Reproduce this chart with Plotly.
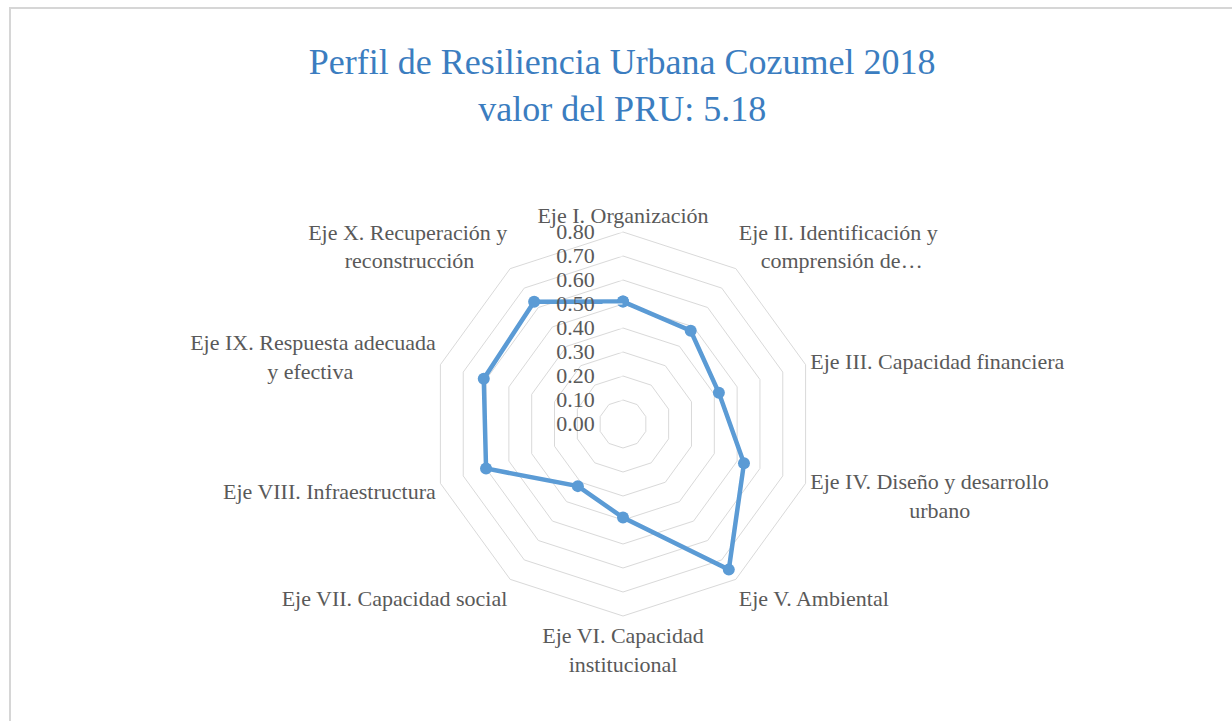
import plotly.graph_objects as go

categories = [
    "Eje I. Organización",
    "Eje II. Identificación y<br>comprensión de…",
    "Eje III. Capacidad financiera",
    "Eje IV. Diseño y desarrollo<br>urbano",
    "Eje V. Ambiental",
    "Eje VI. Capacidad<br>institucional",
    "Eje VII. Capacidad social",
    "Eje VIII. Infraestructura",
    "Eje IX. Respuesta adecuada<br>y efectiva",
    "Eje X. Recuperación y<br>reconstrucción",
]
values = [0.51, 0.48, 0.42, 0.53, 0.75, 0.39, 0.32, 0.60, 0.61, 0.63]
radial_ticks = [0.0, 0.1, 0.2, 0.3, 0.4, 0.5, 0.6, 0.7, 0.8]

title_text = "Perfil de Resiliencia Urbana Cozumel 2018<br>valor del PRU: 5.18"

NB = "\u00a0"
lead_pad = {1: 4, 3: 18}
trail_pad = {8: 15, 9: 6}


def pad_label(i, lab):
    if "<br>" not in lab:
        return lab
    a, b = lab.split("<br>")
    if i in lead_pad:
        b = NB * lead_pad[i] + b
    if i in trail_pad:
        b = b + NB * trail_pad[i]
    return a + "<br>" + b


tick_text = [pad_label(i, c) for i, c in enumerate(categories)]

W, H = 1232, 721
cx, cy, R = 623, 424, 192
FONT = "Liberation Serif"

fig = go.Figure()
fig.add_trace(go.Scatterpolar(
    r=values + values[:1],
    theta=categories + categories[:1],
    mode="lines+markers",
    line=dict(color="#5b9bd5", width=4.5),
    marker=dict(color="#5b9bd5", size=12),
    showlegend=False,
    hoverinfo="skip",
))

fig.update_layout(
    width=W, height=H,
    margin=dict(l=0, r=0, t=0, b=0),
    title=dict(
        text=title_text,
        x=0.505, xanchor="center",
        y=1 - 74 / H, yanchor="middle",
        font=dict(family=FONT, size=36, color="#3b7dc0"),
    ),
    polar=dict(
        domain=dict(
            x=[(cx - R) / W, (cx + R) / W],
            y=[(H - cy - R) / H, (H - cy + R) / H],
        ),
        bgcolor="white",
        gridshape="linear",
        radialaxis=dict(
            range=[0, 0.8],
            tickvals=radial_ticks,
            tickformat=".2f",
            angle=90,
            tickangle=90,
            side="counterclockwise",
            showline=False,
            gridcolor="#d9d9d9",
            ticks="outside",
            ticklen=20,
            tickcolor="white",
            tickfont=dict(family=FONT, size=22, color="#595959"),
        ),
        angularaxis=dict(
            rotation=90,
            direction="clockwise",
            showgrid=False,
            showline=True,
            linecolor="#d9d9d9",
            ticks="",
            tickmode="array",
            tickvals=categories,
            ticktext=tick_text,
            tickfont=dict(family=FONT, size=22, color="#595959"),
        ),
    ),
    shapes=[dict(
        type="rect", xref="paper", yref="paper",
        x0=10 / W, x1=1.02, y0=-0.02, y1=1 - 8 / H,
        line=dict(color="#d6d6d6", width=2),
    )],
)

fig.write_html("out.html")
